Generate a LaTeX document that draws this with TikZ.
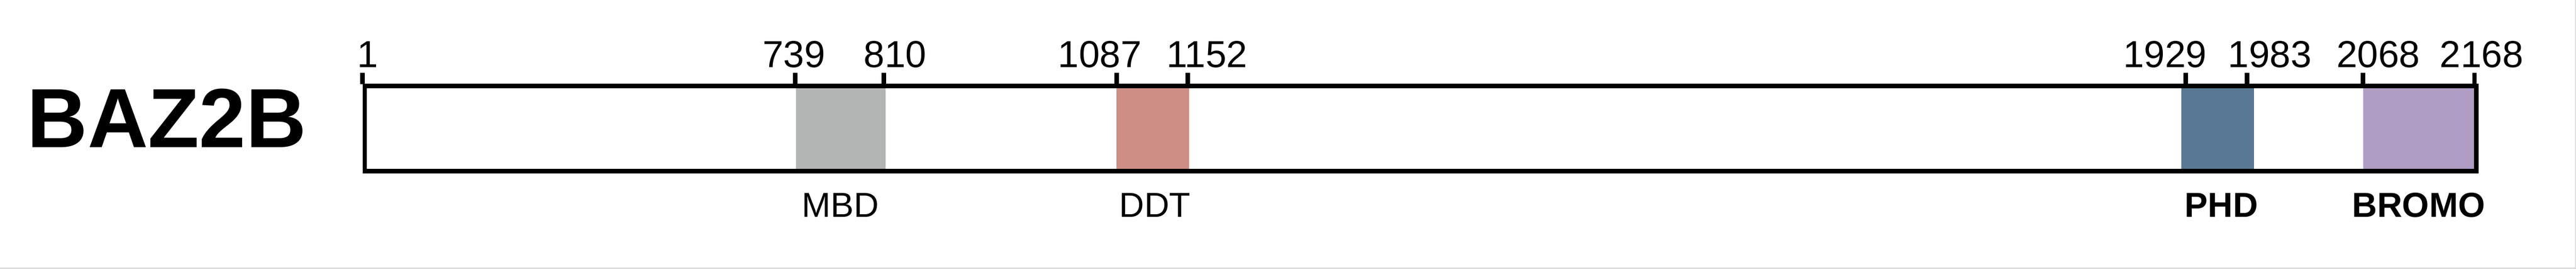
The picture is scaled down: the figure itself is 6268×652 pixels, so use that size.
\documentclass[tikz,border=0pt]{standalone}
\usepackage{fontspec}
\setmainfont{Liberation Sans}
\usetikzlibrary{positioning}

\definecolor{mbdgray}{RGB}{179,181,181}
\definecolor{ddtred}{RGB}{206,142,133}
\definecolor{phdblue}{RGB}{88,120,148}
\definecolor{bromopurple}{RGB}{174,156,194}

\begin{document}
\begin{tikzpicture}[x=0.1mm, y=-0.1mm,
        dombox/.style = {inner sep=0pt, minimum height=20.7mm, anchor=west},
        num/.style = {anchor=base, inner sep=0pt, font=\fontsize{26}{31}\selectfont},
        domlabel/.style = {anchor=base, inner sep=0pt, font=\fontsize{24}{29}\selectfont},
        tickmark/.style = {line width=1.1mm}]
        \useasboundingbox (0,0) rectangle (6268,652);
        \draw[gray!25, line width=0.3mm] (0,651) -- (6267,651) -- (6267,0);
        \node[anchor=base, inner sep=0pt, font=\bfseries\fontsize{58}{70}\selectfont] (gene) at (406,358) {BAZ2B};
        % domains
        \node[dombox, fill=mbdgray, minimum width=21.8mm] (mbd) at (1936,312.5) {};
        \node[dombox, fill=ddtred, minimum width=17.6mm] (ddt) at (2716,312.5) {};
        \node[dombox, fill=phdblue, minimum width=17.7mm] (phd) at (5307,312.5) {};
        \node[dombox, fill=bromopurple, minimum width=27mm] (bromo) at (5750,312.5) {};
        \node[draw, line width=1.1mm, inner sep=0pt, minimum width=513.8mm,
            minimum height=20.7mm, anchor=west] (bar) at (882,312.5) {};
        % ticks and positions
        \foreach \x in {882,1935,2151,2717,2890,5318,5468,5750,6021}
            \draw[tickmark] (\x,177) -- (\x,204);
        \foreach \lab/\x in {1/895, 739/1932, 810/2178, 1087/2676, 1152/2937,
                1929/5268, 1983/5523, 2068/5787, 2168/6038}
            \node[num] (n\lab) at (\x,163) {\lab};
        \node[domlabel] (mbdlab) at (2045,527) {MBD};
        \node[domlabel] (ddtlab) at (2810,527) {DDT};
        \node[domlabel, font=\bfseries\fontsize{24}{29}\selectfont] (phdlab) at (5405,527) {PHD};
        \node[domlabel, font=\bfseries\fontsize{24}{29}\selectfont] (bromolab) at (5885,527) {BROMO};
    \end{tikzpicture}
\end{document}
